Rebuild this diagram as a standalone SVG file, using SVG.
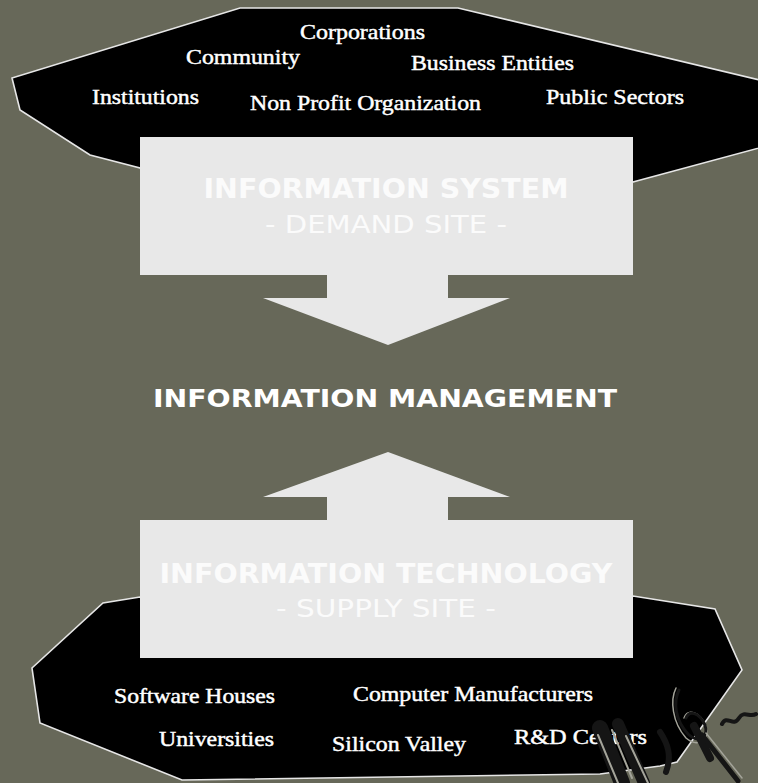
<svg xmlns="http://www.w3.org/2000/svg" width="758" height="783" viewBox="0 0 758 783">
<style>
.bg{fill:#676859}
.cloud{fill:#000;stroke:#e6e6e6;stroke-width:1.6;stroke-linejoin:miter}
.box{fill:#e8e8e8}
.arrow{fill:#e8e8e8}
.lbl{font-family:"Liberation Serif","Times New Roman",serif;font-size:21px;fill:#ffffff;stroke:#ffffff;stroke-width:0.45}
.title{font-family:"DejaVu Sans",Verdana,sans-serif;font-weight:bold;font-size:26px;fill:#fbfbfb;text-anchor:middle}
.sub{font-family:"DejaVu Sans",Verdana,sans-serif;font-size:25px;fill:#fbfbfb;text-anchor:middle}
.mid{font-family:"DejaVu Sans",Verdana,sans-serif;font-weight:bold;font-size:25px;fill:#ffffff;text-anchor:middle}
.scr{fill:none;stroke:#151515;stroke-linecap:round;stroke-linejoin:round}
.hl{fill:none;stroke:#a4a49a;stroke-linecap:round}
</style>
<rect class="bg" x="0" y="0" width="758" height="783"/>

<g id="demand-cloud">
<polygon class="cloud" points="240,8 458,8 785,86 785,141 633,182 600,200 170,200 140,168 90,155 20,110 12,78"/>
<text class="lbl" x="300" y="39" textLength="125" lengthAdjust="spacingAndGlyphs">Corporations</text>
<text class="lbl" x="186" y="64" textLength="114" lengthAdjust="spacingAndGlyphs">Community</text>
<text class="lbl" x="411" y="70" textLength="163" lengthAdjust="spacingAndGlyphs">Business Entities</text>
<text class="lbl" x="92" y="104" textLength="107" lengthAdjust="spacingAndGlyphs">Institutions</text>
<text class="lbl" x="250" y="110" textLength="231" lengthAdjust="spacingAndGlyphs">Non Profit Organization</text>
<text class="lbl" x="546" y="104" textLength="138" lengthAdjust="spacingAndGlyphs">Public Sectors</text>
</g>

<g id="supply-cloud">
<polygon class="cloud" points="140,597 103,603 32,668 40,723 182,780 600,774 660,766 677,762 742,670 715,609 633,596 600,600 170,600"/>
<text class="lbl" x="114" y="703" textLength="161" lengthAdjust="spacingAndGlyphs">Software Houses</text>
<text class="lbl" x="353" y="701" textLength="240" lengthAdjust="spacingAndGlyphs">Computer Manufacturers</text>
<text class="lbl" x="159" y="746" textLength="115" lengthAdjust="spacingAndGlyphs">Universities</text>
<text class="lbl" x="332" y="751" textLength="134" lengthAdjust="spacingAndGlyphs">Silicon Valley</text>
<text class="lbl" x="514" y="744" textLength="133" lengthAdjust="spacingAndGlyphs">R&amp;D Centers</text>
</g>

<g id="information-system">
<rect class="box" x="140" y="137" width="493" height="138"/>
<text class="title" x="386" y="198" textLength="365" lengthAdjust="spacingAndGlyphs">INFORMATION SYSTEM</text>
<text class="sub" x="386" y="233" textLength="242" lengthAdjust="spacingAndGlyphs">- DEMAND SITE -</text>
</g>

<g id="information-management">
<text class="mid" x="385" y="407" textLength="464" lengthAdjust="spacingAndGlyphs">INFORMATION MANAGEMENT</text>
</g>

<g id="information-technology">
<rect class="box" x="140" y="520" width="493" height="138"/>
<text class="title" x="386" y="583" textLength="453" lengthAdjust="spacingAndGlyphs">INFORMATION TECHNOLOGY</text>
<text class="sub" x="386" y="617" textLength="220" lengthAdjust="spacingAndGlyphs">- SUPPLY SITE -</text>
</g>

<g id="connectors">
<polygon class="arrow" points="327,274 448,274 448,298 510,298 388,345 263,298 327,298"/>
<polygon class="arrow" points="388,452 510,497 448,497 448,521 327,521 327,497 263,497"/>
</g>

<g id="scribble">
<path class="scr" stroke-width="16" d="M600,728 L622,783"/>
<path class="scr" stroke-width="12" d="M618,724 L644,783"/>
<path class="hl" stroke-width="2" d="M598,735 L618,783 M612,730 L632,778 M626,736 L648,783"/>
<path class="scr" stroke-width="6" d="M660,732 C668,744 672,756 666,772"/>
<path class="hl" stroke-width="1.5" d="M676,688 C670,700 672,722 686,738 C698,748 710,740 706,726 C700,712 688,708 684,718"/>
<path class="scr" stroke-width="3" d="M679,690 C673,702 675,720 688,734 C699,744 709,737 705,725 C699,712 689,710 686,718"/>
<path class="scr" stroke-width="8" d="M694,726 L710,758"/>
<path class="scr" stroke-width="5" d="M702,735 L738,781"/>
<path class="hl" stroke-width="1.5" d="M706,733 L742,778"/>
<path class="scr" stroke-width="4" d="M722,724 C727,714 733,728 739,718 C744,710 750,718 756,714"/>
</g>
</svg>
